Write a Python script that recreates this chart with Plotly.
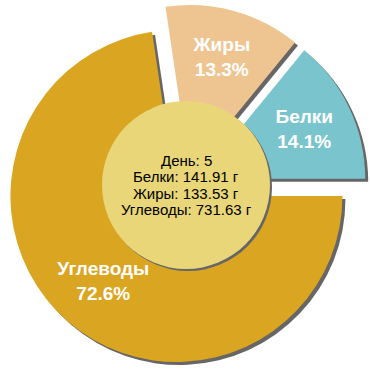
import plotly.graph_objects as go

labels = ["Белки", "Жиры", "Углеводы"]
values = [141.91, 133.53, 731.63]
colors = ["#7AC5CD", "#EEC591", "#DAA520"]
pulls = [0.088, 0.088, 0.088]
day = 5
unit = "г"

W = H = 370
cx, cy = 186.0, 185.0   # pie centre in px (from top-left)
r = 166.0
half = r * (1 + max(pulls))
sh = 3.0  # shadow offset px

def dom(dx=0.0, dy=0.0):
    x0 = (cx + dx - half) / W
    x1 = (cx + dx + half) / W
    yc = H - (cy + dy)
    y0 = (yc - half) / H
    y1 = (yc + half) / H
    return dict(x=[x0, x1], y=[y0, y1])

# slices go clockwise from 3 o'clock: Углеводы, Жиры, Белки
L, V, C, P = labels[::-1], values[::-1], colors[::-1], pulls[::-1]

fig = go.Figure()
fig.add_trace(go.Pie(
    labels=L, values=V, sort=False, direction="clockwise",
    rotation=90, pull=P, domain=dom(sh, sh),
    marker=dict(colors=["#666666"] * 3, line=dict(width=0)),
    textinfo="none", hoverinfo="skip", showlegend=False,
))
fig.add_trace(go.Pie(
    labels=L, values=V, sort=False, direction="clockwise",
    rotation=90, pull=P, domain=dom(), hole=0.35,
    marker=dict(colors=C, line=dict(width=0)),
    texttemplate="%{label}<br>%{percent:.1%}", textposition="inside",
    insidetextorientation="horizontal",
    textfont=dict(family="Liberation Sans, Arial", size=19, color="white", weight="bold"),
    showlegend=False,
))

cr = 84.0
def circ(dx, dy, color):
    return dict(type="circle", xref="paper", yref="paper",
                x0=(cx + dx - cr) / W, x1=(cx + dx + cr) / W,
                y0=(H - (cy + dy) - cr) / H, y1=(H - (cy + dy) + cr) / H,
                fillcolor=color, line=dict(width=0), layer="above")

center_lines = [f"День: {day}"] + [f"{l}: {v:.2f} {unit}" for l, v in zip(labels, values)]
line_h = 16.3
n = len(center_lines)
annotations = []
for i, t in enumerate(center_lines):
    annotations.append(dict(
        text=t, xref="paper", yref="paper", x=cx / W, y=(H - cy) / H,
        yshift=((n - 1) / 2 - i) * line_h, showarrow=False,
        font=dict(family="Liberation Sans, Arial", size=15, color="black")))

fig.update_layout(
    width=W, height=H, margin=dict(l=0, r=0, t=0, b=0),
    paper_bgcolor="white", plot_bgcolor="white",
    shapes=[circ(2, 2, "#666666"), circ(0, 0, "#E8D679")],
    annotations=annotations,
)
fig.write_html("out.html")
